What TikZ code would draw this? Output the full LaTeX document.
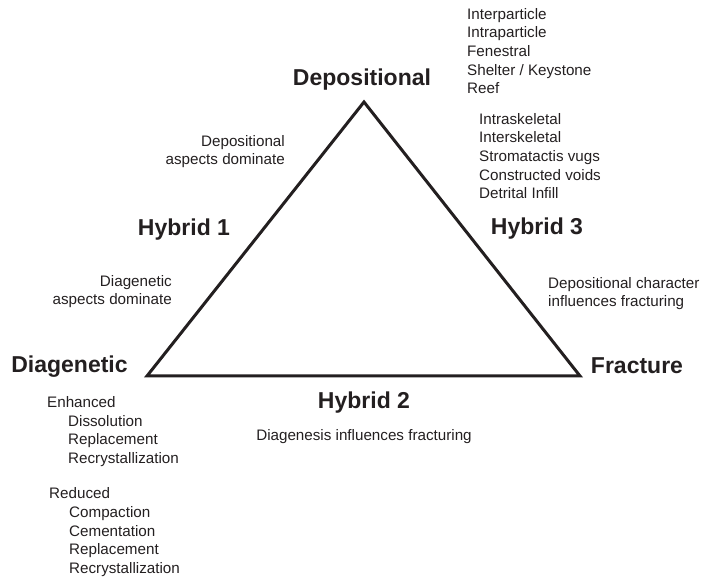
\documentclass[tikz,border=0pt]{standalone}
\usepackage{fontspec}
\setmainfont{Liberation Sans}
\usepackage{xcolor}
\usetikzlibrary{positioning, calc}

\definecolor{ink}{HTML}{231F20}

\begin{document}
\begin{tikzpicture}[x=1pt, y=1pt, line join=miter,
    corner/.style={font=\fontsize{23}{27}\selectfont\bfseries, text=ink, inner sep=0pt},
    note/.style={font=\fontsize{15.2}{18.7}\selectfont, text=ink, inner sep=0pt},
    edge/.style={draw=ink, line width=3pt}]

    \useasboundingbox (0,0) rectangle (715,580);

    % ================= Triangle corners =================
    \coordinate (top)   at (364, 478);
    \coordinate (left)  at (147, 204);
    \coordinate (right) at (580, 204);

    \draw[edge] (top) -- (left) -- (right) -- cycle;

    % ================= Corner labels =================
    \node[corner] (dep)  at (362, 500) {Depositional};
    \node[corner] (diag) at (69.5, 213) {Diagenetic};
    \node[corner] (frac) at (637, 214) {Fracture};

    % ================= Hybrid labels =================
    \node[corner] (hyb1) at (184, 350) {Hybrid 1};
    \node[corner] (hyb2) at (364, 177) {Hybrid 2};
    \node[corner] (hyb3) at (537, 351) {Hybrid 3};

    % ================= Notes along the edges =================
    \node[note, anchor=east, align=right] (depDom)  at (285, 428.5) {Depositional\\aspects dominate};
    \node[note, anchor=east, align=right] (diagDom) at (172, 288.5) {Diagenetic\\aspects dominate};
    \node[note] (diagFrac) at (364, 143) {Diagenesis influences fracturing};
    \node[note, anchor=west, align=left] (depFrac) at (548, 286.5) {Depositional character\\influences fracturing};

    % ================= Depositional pore types =================
    \node[note, anchor=west, align=left] (depTypes) at (467, 529)
        {Interparticle\\Intraparticle\\Fenestral\\Shelter / Keystone\\Reef};
    \node[note, anchor=west, align=left] (reefTypes) at (479, 424)
        {Intraskeletal\\Interskeletal\\Stromatactis vugs\\Constructed voids\\Detrital Infill};

    % ================= Diagenetic pore types =================
    \node[note, anchor=west] (enh) at (47, 178) {Enhanced};
    \node[note, anchor=west, align=left] (enhList) at (68, 139)
        {Dissolution\\Replacement\\Recrystallization};
    \node[note, anchor=west] (red) at (49, 87) {Reduced};
    \node[note, anchor=west, align=left] (redList) at (69, 38.5)
        {Compaction\\Cementation\\Replacement\\Recrystallization};

\end{tikzpicture}
\end{document}
